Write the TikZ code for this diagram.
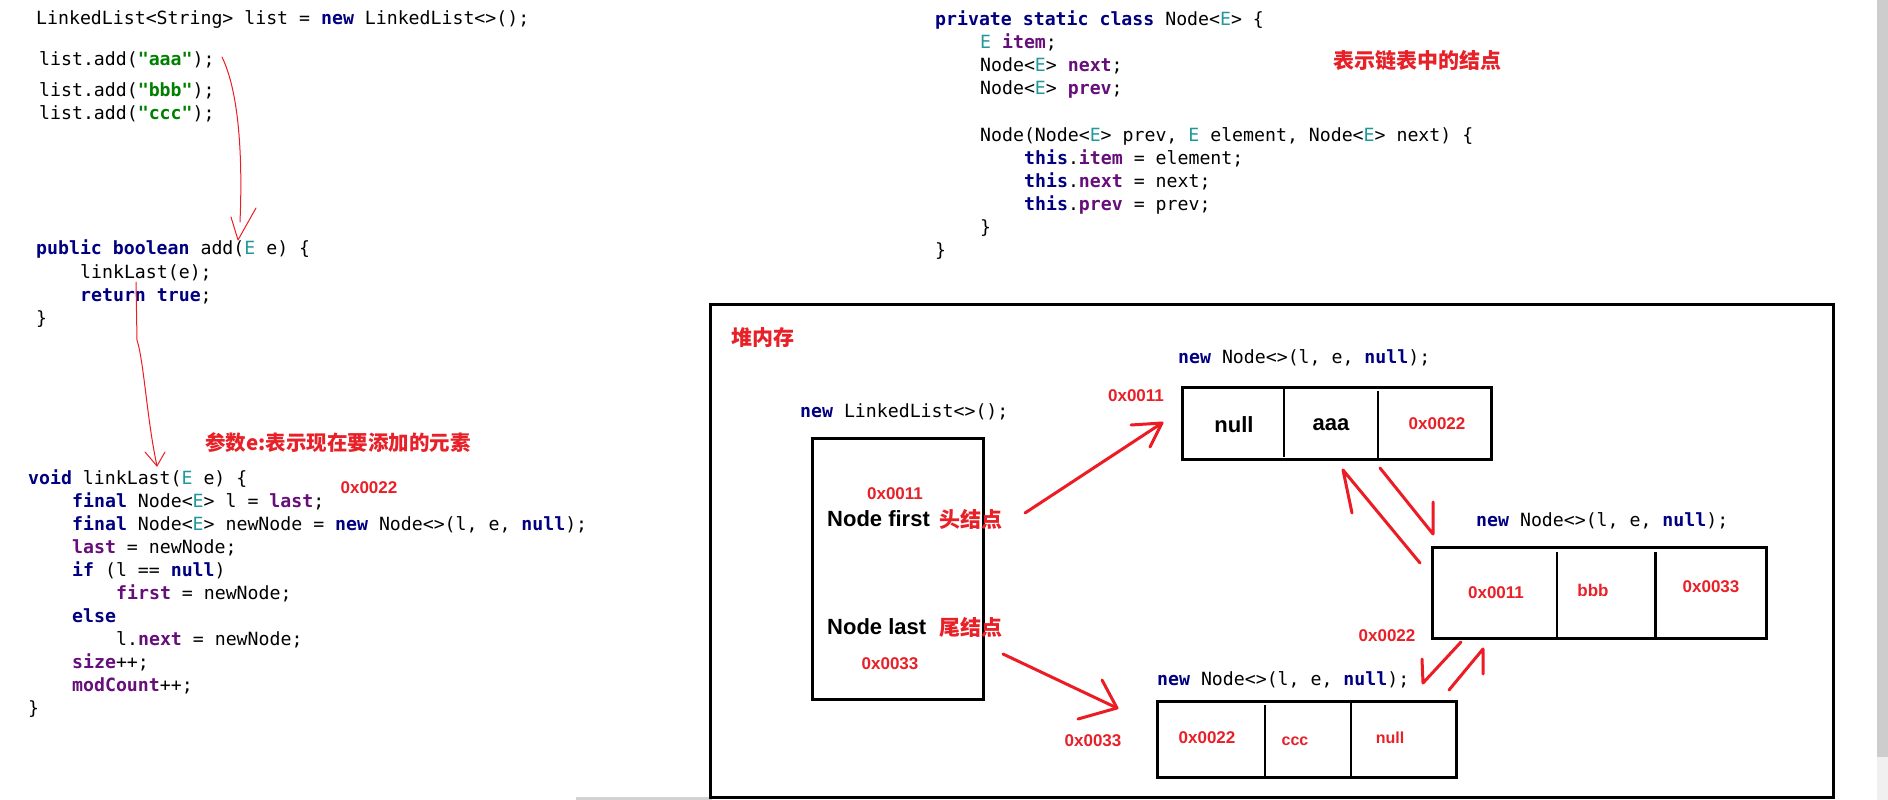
\documentclass[tikz,border=0pt]{standalone}
\usepackage{fontspec}
\setmainfont{Liberation Sans}
\setmonofont{DejaVu Sans Mono}
\newfontfamily\cjk{Noto Sans CJK SC}
\definecolor{kwblue}{RGB}{0,0,128}
\definecolor{fldpurple}{RGB}{102,14,122}
\definecolor{strgreen}{RGB}{0,128,0}
\definecolor{tpteal}{RGB}{32,153,157}
\definecolor{myred}{RGB}{232,32,40}
\definecolor{arrred}{RGB}{237,28,36}
\definecolor{scrollgray}{RGB}{205,205,205}
\newcommand\jkw[1]{{\color{kwblue}\bfseries #1}}
\newcommand\jfld[1]{{\color{fldpurple}\bfseries #1}}
\newcommand\jstr[1]{{\color{strgreen}\bfseries #1}}
\newcommand\jtp[1]{{\color{tpteal}#1}}
\tikzset{
  codet/.style={font=\ttfamily\fontsize{18.2}{23}\selectfont, inner sep=0pt, anchor=base west},
  lab/.style={font=\bfseries\fontsize{17}{20}\selectfont, text=myred, inner sep=0pt},
  labs/.style={font=\bfseries\fontsize{16}{19}\selectfont, text=myred, inner sep=0pt},
  blk/.style={font=\bfseries\fontsize{22}{26}\selectfont, inner sep=0pt},
  cjkt/.style={font=\cjk\bfseries\fontsize{21}{24}\selectfont, text=myred, inner sep=0pt, anchor=west},
  boxs/.style={draw, line width=3pt},
  divs/.style={draw, line width=2.5pt},
  bigred/.style={draw=arrred, line width=3pt, line cap=round, line join=round},
  thinred/.style={draw=arrred, line width=1pt, line cap=round, line join=round},
}
\begin{document}
\begin{tikzpicture}[x=1pt,y=-1pt]
\useasboundingbox (0,0) rectangle (1888,800);
\fill[white] (0,0) rectangle (1888,800);
% scrollbar
\fill[scrollgray] (1877,0) rectangle (1888,757);
\fill[gray!12] (1877,757) rectangle (1888,800);
\fill[gray!35] (576,797) rectangle (712,800);

% ---------- left code ----------
\node[codet] (c1) at (36,25) {LinkedList<String> list = \jkw{new} LinkedList<>();};
\node[codet] (c2) at (39,66) {list.add(\jstr{"aaa"});};
\node[codet] (c3) at (39,96) {list.add(\jstr{"bbb"});};
\node[codet] (c4) at (39,119) {list.add(\jstr{"ccc"});};
\node[codet] (c5) at (36,254) {\jkw{public boolean} add(\jtp{E} e) \{};
\node[codet] (c6) at (80,278) {linkLast(e);};
\node[codet] (c7) at (80,301) {\jkw{return true};};
\node[codet] (c8) at (36,324) {\}};
\node[codet] (c9) at (28,484) {\jkw{void} linkLast(\jtp{E} e) \{};
\node[codet] (c10) at (72,507) {\jkw{final} Node<\jtp{E}> l = \jfld{last};};
\node[codet] (c11) at (72,530) {\jkw{final} Node<\jtp{E}> newNode = \jkw{new} Node<>(l, e, \jkw{null});};
\node[codet] (c12) at (72,553) {\jfld{last} = newNode;};
\node[codet] (c13) at (72,576) {\jkw{if} (l == \jkw{null})};
\node[codet] (c14) at (116,599) {\jfld{first} = newNode;};
\node[codet] (c15) at (72,622) {\jkw{else}};
\node[codet] (c16) at (116,645) {l.\jfld{next} = newNode;};
\node[codet] (c17) at (72,668) {\jfld{size}++;};
\node[codet] (c18) at (72,691) {\jfld{modCount}++;};
\node[codet] (c19) at (28,714) {\}};
\node[font=\cjk\bfseries\fontsize{20.5}{23}\selectfont, text=myred, inner sep=0pt, anchor=west] (note1) at (205,443) {参数e:表示现在要添加的元素};
\node[lab] (addr1) at (369,488) {0x0022};

% ---------- right code ----------
\node[codet] (r1) at (935,26) {\jkw{private static class} Node<\jtp{E}> \{};
\node[codet] (r2) at (980,49) {\jtp{E} \jfld{item};};
\node[codet] (r3) at (980,72) {Node<\jtp{E}> \jfld{next};};
\node[codet] (r4) at (980,95) {Node<\jtp{E}> \jfld{prev};};
\node[codet] (r5) at (980,141) {Node(Node<\jtp{E}> prev, \jtp{E} element, Node<\jtp{E}> next) \{};
\node[codet] (r6) at (1024,164) {\jkw{this}.\jfld{item} = element;};
\node[codet] (r7) at (1024,187) {\jkw{this}.\jfld{next} = next;};
\node[codet] (r8) at (1024,210) {\jkw{this}.\jfld{prev} = prev;};
\node[codet] (r9) at (980,233) {\}};
\node[codet] (r10) at (935,256) {\}};
\node[cjkt] (note2) at (1333,61) {表示链表中的结点};

% ---------- thin arrows in code ----------
\coordinate (a1s) at (222,57);
\coordinate (a1e) at (240,222);
\coordinate (a1t) at (238,240);
\coordinate (a1l) at (231,217);
\coordinate (a1r) at (256,208);
\draw[thinred] (a1s) .. controls (238,90) and (243,150) .. (a1e);
\draw[thinred] (a1l) -- (a1t) -- (a1r);
\coordinate (a2s) at (136,282);
\coordinate (a2m) at (137,340);
\coordinate (a2e) at (157,466);
\coordinate (a2l) at (145,452);
\coordinate (a2r) at (165,452);
\draw[thinred] (a2s) -- (a2m) .. controls (144,362) and (147,420) .. (a2e);
\draw[thinred] (a2l) -- (a2e) -- (a2r);

% ---------- heap ----------
\node[boxs, minimum width=1123, minimum height=493, inner sep=0pt] (heap) at (1271.5,550.5) {};
\node[cjkt] (heaplbl) at (731,338) {堆内存};

% LinkedList object
\node[codet] (llcode) at (800,417) {\jkw{new} LinkedList<>();};
\node[boxs, minimum width=171, minimum height=261, inner sep=0pt] (ll) at (897.5,568.5) {};
\node[lab] (llfa) at (895,494) {0x0011};
\node[blk, anchor=west] (llfirst) at (827,519) {Node first};
\node[cjkt] (llfirstc) at (939,519) {头结点};
\node[blk, anchor=west] (lllast) at (827,627) {Node last};
\node[cjkt] (lllastc) at (939,627) {尾结点};
\node[lab] (llla) at (890,664) {0x0033};

% node aaa
\node[codet] (ncode1) at (1178,363) {\jkw{new} Node<>(l, e, \jkw{null});};
\node[lab] (aaddr) at (1136,396) {0x0011};
\node[boxs, minimum width=309, minimum height=72, inner sep=0pt] (na) at (1336.5,423) {};
\draw[divs] (1284,389) -- (1284,457);
\draw[divs] (1378,391) -- (1378,458);
\node[blk] (naprev) at (1234,425) {null};
\node[blk] (naitem) at (1331,425) {aaa};
\node[lab] (nanext) at (1437,424) {0x0022};

% node bbb
\node[codet] (ncode2) at (1476,526) {\jkw{new} Node<>(l, e, \jkw{null});};
\node[boxs, minimum width=334, minimum height=91, inner sep=0pt] (nb) at (1599,592.5) {};
\draw[divs] (1557,552) -- (1557,640);
\draw[divs] (1655.5,552) -- (1655.5,637);
\node[lab] (nbprev) at (1496,593) {0x0011};
\node[lab] (nbitem) at (1593,590) {bbb};
\node[lab] (nbnext) at (1711,587) {0x0033};
\node[lab] (baddr) at (1387,636) {0x0022};

% node ccc
\node[codet] (ncode3) at (1157,685) {\jkw{new} Node<>(l, e, \jkw{null});};
\node[boxs, minimum width=299, minimum height=76, inner sep=0pt] (nc) at (1306.5,739) {};
\draw[divs] (1265,705) -- (1265,777);
\draw[divs] (1351,703) -- (1351,777);
\node[lab] (ncprev) at (1207,738) {0x0022};
\node[labs] (ncitem) at (1295,741) {ccc};
\node[labs] (ncnext) at (1390,738) {null};
\node[lab] (caddr) at (1093,741) {0x0033};

% ---------- heap arrows ----------
\coordinate (f1s) at (1025,513);
\coordinate (f1t) at (1162,423);
\coordinate (f1a) at (1131,425);
\coordinate (f1b) at (1150,447);
\draw[bigred] (f1s) -- (f1t);
\draw[bigred] (f1a) -- (f1t) -- (f1b);

\coordinate (l1s) at (1003,654);
\coordinate (l1t) at (1117,708);
\coordinate (l1a) at (1102,680);
\coordinate (l1b) at (1078,719);
\draw[bigred] (l1s) -- (l1t);
\draw[bigred] (l1a) -- (l1t) -- (l1b);

\coordinate (pAs) at (1420,563);
\coordinate (pAt) at (1343,470);
\coordinate (pAa) at (1352,513);
\draw[bigred] (pAs) -- (pAt) -- (pAa);

\coordinate (pBs) at (1380,468);
\coordinate (pBt) at (1433,534);
\coordinate (pBa) at (1433,502);
\draw[bigred] (pBs) -- (pBt) -- (pBa);

\coordinate (pCs) at (1461,642);
\coordinate (pCt) at (1423,683);
\coordinate (pCa) at (1422,659);
\draw[bigred] (pCs) -- (pCt) -- (pCa);

\coordinate (pDs) at (1449,690);
\coordinate (pDt) at (1483,649);
\coordinate (pDa) at (1483,674);
\draw[bigred] (pDs) -- (pDt) -- (pDa);
\end{tikzpicture}
\end{document}
